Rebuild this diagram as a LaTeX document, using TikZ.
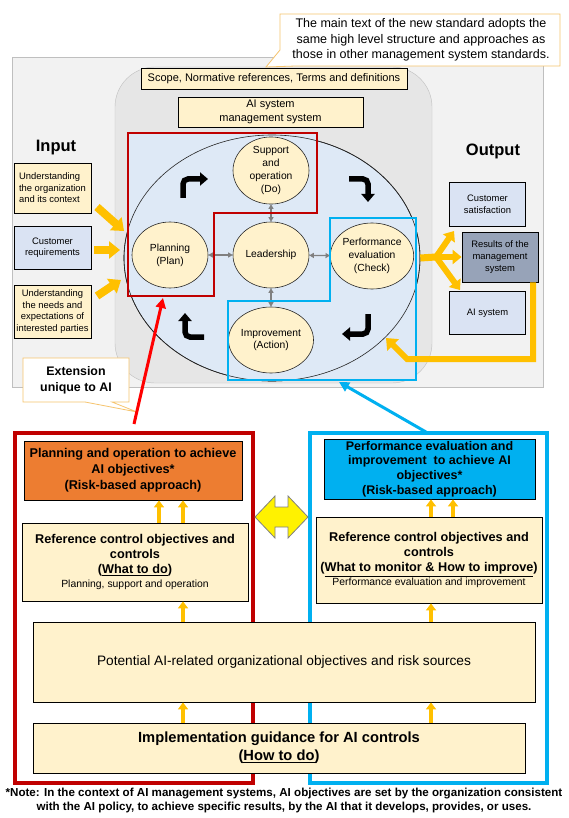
\documentclass[tikz,border=0pt]{standalone}
\usepackage{fontspec}
\setmainfont{Liberation Sans}
\usetikzlibrary{arrows.meta,shapes.geometric}
\definecolor{ylw}{HTML}{FFF2CC}
\definecolor{lblue}{HTML}{DAE3F3}
\definecolor{ellblue}{HTML}{DEE9F6}
\definecolor{grayBg}{HTML}{F2F2F2}
\definecolor{grayIn}{HTML}{E6E6E6}
\definecolor{orangeA}{HTML}{FFC000}
\definecolor{redF}{HTML}{C00000}
\definecolor{redA}{HTML}{FF0000}
\definecolor{blueF}{HTML}{00B0F0}
\definecolor{orangeBox}{HTML}{ED7D31}
\definecolor{resBox}{HTML}{97A3B8}
\definecolor{calloutC}{HTML}{F6C46E}
\newcommand{\myfs}[2]{\fontsize{#1}{#2}\selectfont}
\tikzset{
  boxbase/.style={draw=black, line width=0.8pt, inner sep=1pt, align=center},
  ybox/.style={boxbase, fill=ylw},
  bbox/.style={boxbase, fill=lblue},
  circ/.style={ellipse, draw=black!85, line width=0.6pt, fill=ylw, minimum width=76pt, minimum height=66pt, inner sep=0pt, align=center, font=\myfs{10.3}{12.7}},
  grayarr/.style={draw=black!50, line width=1.2pt, {Triangle[width=5pt,length=4.5pt]}-{Triangle[width=5pt,length=4.5pt]}},
  turnarr/.style={draw=black, line width=5.5pt, rounded corners=5pt, -{Triangle[width=13pt,length=8pt]}},
  inarr/.style={draw=orangeA, line width=8pt, -{Triangle[width=17pt,length=11pt]}},
  outarr/.style={draw=orangeA, line width=6pt, -{Triangle[width=14pt,length=9pt]}},
  uparr/.style={draw=orangeA, line width=4.5pt, -{Triangle[width=10pt,length=7pt]}},
  callout/.style={draw=calloutC, line width=0.8pt, fill=white},
  pointarr/.style={line width=3pt, -{Triangle[width=10pt,length=10pt]}},
  frame/.style={line width=3.2pt},
}
\begin{document}
\begin{tikzpicture}[x=1pt,y=-1pt]
\fill[white] (0,0) rectangle (568,818);
\useasboundingbox (0,0) rectangle (568,818);

% backgrounds
\draw[draw=black!25, fill=grayBg] (12,57) rectangle (543,387);
\draw[draw=black!25, fill=grayIn, rounded corners=40pt] (115,67) rectangle (432,383);

% top callout
\draw[callout] (280,14) -- (560,14) -- (560,66) -- (296,66) -- (266,67) -- (280,50) -- cycle;
\node[align=center, font=\myfs{12.5}{15.3}] (note1) at (421,40) {The main text of the new standard adopts the\\same high level structure and approaches as\\those in other management system standards.};

\node[ybox, minimum width=266pt, minimum height=21pt, font=\myfs{11}{13}] (scope) at (274,79) {Scope, Normative references, Terms and definitions};
\node[ybox, minimum width=185pt, minimum height=30pt, font=\myfs{11}{13.5}] (aims) at (270.5,112) {AI system\\management system};

% ellipse and frames
\node[ellipse, draw=black!85, line width=0.6pt, fill=ellblue, minimum width=296pt, minimum height=246pt, inner sep=0pt] (ell) at (272,258) {};
\fill[ellblue] (128,133) -- (317,133) -- (317,213) -- (214,213) -- (214,296) -- (128,296) -- cycle;
\fill[ellblue] (330,218) -- (416,218) -- (416,380) -- (228,380) -- (228,301) -- (330,301) -- cycle;
\draw[black!85, line width=0.6pt] (ell.center) ellipse [x radius=148pt, y radius=123pt];

\node[circ] (sup) at (271,170.5) {Support\\and\\operation\\(Do)};
\node[circ] (lead) at (271,255) {Leadership};
\node[circ] (plan) at (170,255) {Planning\\(Plan)};
\node[circ, minimum width=77pt] (perf) at (372,256) {Performance\\evaluation\\(Check)};
\node[circ] (imp) at (271,340) {Improvement\\(Action)};

\draw[grayarr] (sup) -- (lead);
\draw[grayarr] (plan) -- (lead);
\draw[grayarr] (lead) -- (perf);
\draw[grayarr] (lead) -- (imp);

\draw[redF, line width=2.4pt] (128,133) -- (317,133) -- (317,213) -- (214,213) -- (214,296) -- (128,296) -- cycle;
\draw[blueF, line width=2.4pt] (330,218) -- (416,218) -- (416,380) -- (228,380) -- (228,301) -- (330,301) -- cycle;

% cycle arrows
\draw[turnarr] (183,198) -- (183,179) -- (208,179);
\draw[turnarr] (349,179) -- (368,179) -- (368,202);
\draw[turnarr] (368,314) -- (368,334) -- (342,334);
\draw[turnarr] (204,337) -- (185,337) -- (185,313);

% input
\node[font=\bfseries\myfs{16.5}{18}] (input) at (56,148) {Input};
\node[ybox, minimum width=77pt, minimum height=50pt, align=left, font=\myfs{9.4}{11.6}] (in1) at (52.5,188) {Understanding\\the organization\\and its context};
\node[bbox, minimum width=77pt, minimum height=43pt, font=\myfs{9.4}{11.6}] (in2) at (52.5,247.5) {Customer\\requirements};
\node[ybox, minimum width=77pt, minimum height=53pt, font=\myfs{9.4}{11.6}] (in3) at (52.5,311.5) {Understanding\\the needs and\\expectations of\\interested parties};
\coordinate (i1a) at (97,207); \coordinate (i1b) at (124,231);
\coordinate (i2a) at (94,250); \coordinate (i2b) at (120,250);
\coordinate (i3a) at (97,296); \coordinate (i3b) at (121,280);
\draw[inarr] (i1a) -- (i1b);
\draw[inarr] (i2a) -- (i2b);
\draw[inarr] (i3a) -- (i3b);

% output
\node[font=\bfseries\myfs{16.5}{18}] (output) at (493,151) {Output};
\node[bbox, minimum width=76pt, minimum height=44pt, font=\myfs{9.4}{11.6}] (cs) at (487.5,204) {Customer\\satisfaction};
\node[boxbase, fill=resBox, minimum width=76pt, minimum height=50pt, font=\myfs{9.4}{11.6}] (rms) at (500,257) {Results of the\\management\\system};
\node[bbox, minimum width=76pt, minimum height=43pt, font=\myfs{9.4}{11.6}] (ais) at (487.5,313) {AI system};
\coordinate (split) at (436,257);
\draw[orangeA, line width=7pt] (ell.east) -- (split);
\draw[outarr] (split) -- (454,231);
\draw[outarr] (split) -- (rms.west);
\draw[outarr] (split) -- (460,290);
\coordinate (fb1) at (533,359);
\coordinate (fb2) at (407,359);
\coordinate (fbT) at (386,338);
\draw[orangeA, line width=6pt, -{Triangle[width=16pt,length=10pt]}] (rms.south -| fb1) -- (fb1) -- (fb2) -- (fbT);

% extension callout
\draw[callout] (23,358) -- (129,358) -- (129,402) -- (112,402) -- (137,412) -- (85,402) -- (23,402) -- cycle;
\node[align=center, font=\bfseries\myfs{12.4}{16}] (ext) at (76,380) {Extension\\unique to AI};

% pointer arrows
\coordinate (redS) at (134,424); \coordinate (redT) at (163,298);
\draw[pointarr, redA] (redS) -- (redT);
\coordinate (blueS) at (426,432); \coordinate (blueT) at (339,382);
\draw[pointarr, blueF] (blueS) -- (blueT);

% bottom frames
\draw[redF, frame] (15,433) rectangle (253,783);
\draw[blueF, frame] (310,433) rectangle (547,783);

\node[boxbase, fill=orangeBox, minimum width=218pt, minimum height=59pt, font=\bfseries\myfs{12.7}{16}] (planop) at (133,470.5) {Planning and operation to achieve\\AI objectives*\\(Risk-based approach)};
\node[boxbase, fill=blueF, minimum width=211pt, minimum height=60pt, font=\bfseries\myfs{12.5}{14.8}] (perfimp) at (429.5,469) {Performance evaluation and\\improvement\ \ to achieve AI\\objectives*\\(Risk-based approach)};
\node[ybox, minimum width=226pt, minimum height=78pt, font=\bfseries\myfs{12.7}{15}] (refL) at (135,562) {Reference control objectives and\\controls\\(\underline{What to do})\\[-1.5pt]{\mdseries\myfs{10.4}{12}Planning, support and operation}};
\node[ybox, minimum width=226pt, minimum height=86pt, font=\bfseries\myfs{12.7}{15}] (refR) at (429,560) {Reference control objectives and\\controls\\(\underline{What to monitor \& How to improve})\\[-1.5pt]{\mdseries\myfs{10.4}{12}Performance evaluation and improvement}};
\node[ybox, minimum width=502pt, minimum height=80pt, font=\myfs{13.7}{16}] (pot) at (284,662) {Potential AI-related organizational objectives and risk sources};
\node[ybox, minimum width=492pt, minimum height=50pt, font=\bfseries\myfs{14.7}{18}] (impl) at (279,748) {Implementation guidance for AI controls\\(\underline{How to do})};

\coordinate (xa) at (159,0); \coordinate (xb) at (183,0);
\coordinate (xc) at (431,0); \coordinate (xd) at (453,0);
\draw[uparr] (refL.north -| xa) -- (planop.south -| xa);
\draw[uparr] (refL.north -| xb) -- (planop.south -| xb);
\draw[uparr] (refR.north -| xc) -- (perfimp.south -| xc);
\draw[uparr] (refR.north -| xd) -- (perfimp.south -| xd);
\draw[uparr] (pot.north -| xb) -- (refL.south -| xb);
\draw[uparr] (pot.north -| xc) -- (refR.south -| xc);
\draw[uparr] (impl.north -| xb) -- (pot.south -| xb);
\draw[uparr] (impl.north -| xc) -- (pot.south -| xc);

% yellow double arrow
\draw[draw=black!50, line width=0.8pt, fill=yellow] (255,517) -- (275,496) -- (275,507) -- (288,507) -- (288,496) -- (308,517) -- (288,538) -- (288,527) -- (275,527) -- (275,538) -- cycle;

% note
\node[align=center, font=\bfseries\myfs{11.6}{14}] (foot) at (284,800) {*Note: In the context of AI management systems, AI objectives are set by the organization consistent\\with the AI policy, to achieve specific results, by the AI that it develops, provides, or uses.};
\end{tikzpicture}
\end{document}
